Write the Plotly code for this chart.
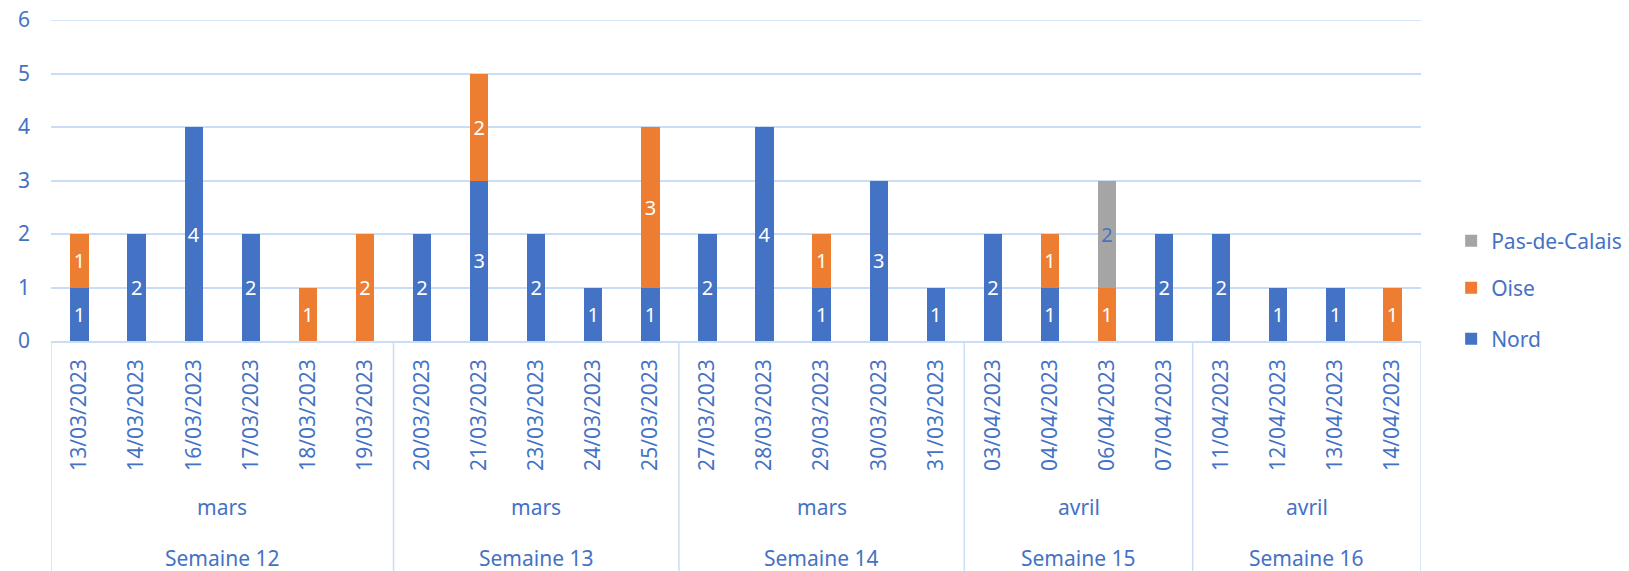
import plotly.graph_objects as go

dates = ["13/03/2023", "14/03/2023", "16/03/2023", "17/03/2023", "18/03/2023", "19/03/2023",
         "20/03/2023", "21/03/2023", "23/03/2023", "24/03/2023", "25/03/2023",
         "27/03/2023", "28/03/2023", "29/03/2023", "30/03/2023", "31/03/2023",
         "03/04/2023", "04/04/2023", "06/04/2023", "07/04/2023",
         "11/04/2023", "12/04/2023", "13/04/2023", "14/04/2023"]
nord = [1, 2, 4, 2, 0, 0,
        2, 3, 2, 1, 1,
        2, 4, 1, 3, 1,
        2, 1, 0, 2,
        2, 1, 1, 0]
oise = [1, 0, 0, 0, 1, 2,
        0, 2, 0, 0, 3,
        0, 0, 1, 0, 0,
        0, 1, 1, 0,
        0, 0, 0, 1]
pas_de_calais = [0, 0, 0, 0, 0, 0,
                 0, 0, 0, 0, 0,
                 0, 0, 0, 0, 0,
                 0, 0, 2, 0,
                 0, 0, 0, 0]
weeks = ["Semaine 12", "Semaine 13", "Semaine 14", "Semaine 15", "Semaine 16"]
week_months = ["mars", "mars", "mars", "avril", "avril"]
week_sizes = [6, 5, 5, 4, 4]

BLUE = "#4472C4"
ORANGE = "#ED7D31"
GRAY = "#A5A5A5"
TXT = "#4472C4"
GRID = "#C9DEF6"
FONT = "Noto Sans"

def lbl(v):
    return [str(x) if x else "" for x in v]

fig = go.Figure()
series = [("Nord", nord, BLUE, "white", "legend", 0.006),
          ("Oise", oise, ORANGE, "white", "legend2", 0.165),
          ("Pas-de-Calais", pas_de_calais, GRAY, TXT, "legend3", 0.3115)]
legends = {}
for name, vals, col, tcol, leg, ly in series:
    fig.add_trace(go.Bar(
        x=dates, y=vals, name=name, legend=leg, showlegend=True,
        marker=dict(color=col, line=dict(width=0)),
        text=lbl(vals), textposition="inside", insidetextanchor="middle",
        textangle=0, textfont=dict(color=tcol, size=20, family=FONT),
        hoverinfo="skip",
    ))
    legends[leg] = dict(x=1.022, xanchor="left", y=ly, yanchor="middle",
                        font=dict(size=21, color=TXT, family=FONT),
                        itemwidth=30, bgcolor="rgba(0,0,0,0)")

shapes = []
bounds = [-0.5]
for s in week_sizes:
    bounds.append(bounds[-1] + s)
for b in bounds:
    shapes.append(dict(type="line", xref="x", yref="paper", x0=b, x1=b, y0=0, y1=-0.75,
                       line=dict(color=GRID, width=1.5)))
shapes.append(dict(type="line", xref="paper", yref="y", x0=0, x1=1, y0=6, y1=6,
                   line=dict(color=GRID, width=1.5), layer="below"))

annotations = []
for i, (w, m) in enumerate(zip(weeks, week_months)):
    c = (bounds[i] + bounds[i + 1]) / 2
    annotations.append(dict(x=c, y=-0.517, xref="x", yref="paper", text=m, showarrow=False,
                            font=dict(color=TXT, size=21, family=FONT), yanchor="middle"))
    annotations.append(dict(x=c, y=-0.676, xref="x", yref="paper", text=w, showarrow=False,
                            font=dict(color=TXT, size=21, family=FONT), yanchor="middle"))

fig.update_layout(
    width=1629, height=571,
    showlegend=True,
    barmode="stack", bargap=0.68,
    margin=dict(l=51, r=208, t=20, b=230, autoexpand=False),
    paper_bgcolor="white", plot_bgcolor="white",
    font=dict(family=FONT, color=TXT, size=21),
    uniformtext=dict(minsize=20, mode="show"),
    shapes=shapes, annotations=annotations,
    xaxis=dict(type="category", tickangle=-90, showgrid=False, ticks="",
               showline=True, linecolor=GRID, linewidth=1.5, automargin=False,
               tickfont=dict(size=21, color=TXT, family=FONT), range=[-0.5, 23.5],
               ticklabelstandoff=8),
    yaxis=dict(range=[0, 6], dtick=1, showgrid=True, gridcolor=GRID, gridwidth=1.5,
               zeroline=False, showline=False, ticks="", automargin=False,
               tickfont=dict(size=21, color=TXT, family=FONT), ticklabelstandoff=20),
    **legends,
)

fig.write_html("out.html", config={"displayModeBar": False},
               post_script="document.body.style.margin='0';")
